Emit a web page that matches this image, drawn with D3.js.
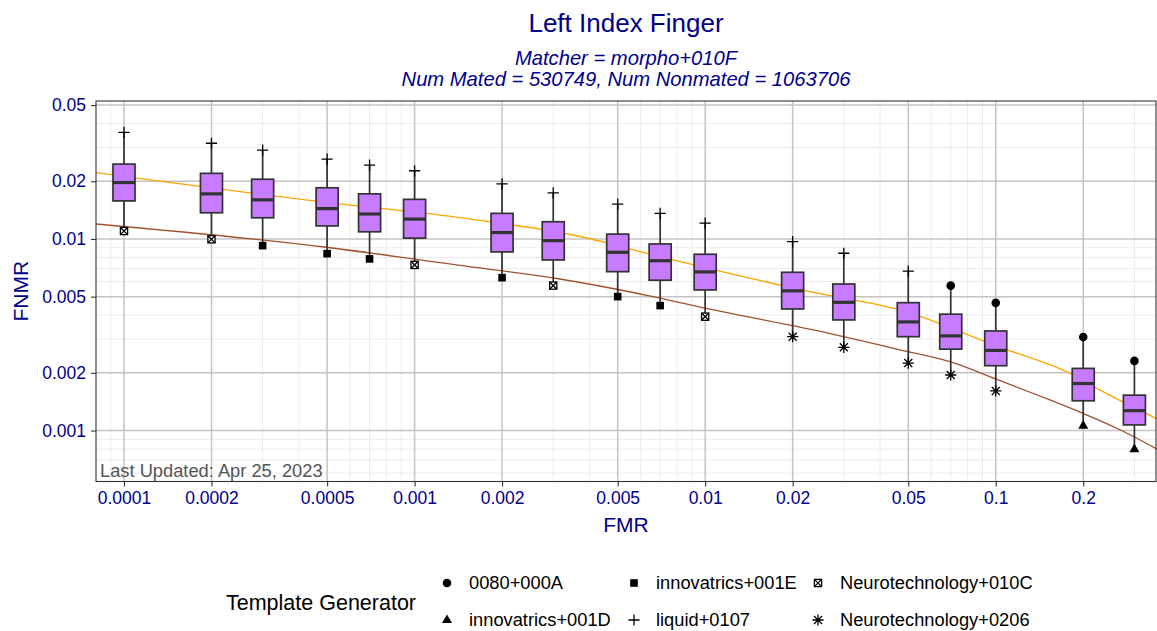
<!DOCTYPE html>
<html>
<head>
<meta charset="utf-8">
<script src="https://cdn.jsdelivr.net/npm/d3@7/dist/d3.min.js"></script>
<style>
  body { margin: 0; background: #fff; }
  svg { display: block; font-family: "Liberation Sans", Arial, sans-serif; }
</style>
</head>
<body>
<div id="chart"></div>
<script>
// FMR thresholds (one box per threshold)
const fmrLevels = [0.0001, 0.0002, 0.0003, 0.0005, 0.0007, 0.001, 0.002, 0.003, 0.005,
  0.007, 0.01, 0.02, 0.03, 0.05, 0.07, 0.1, 0.2, 0.3];

// box stats of FNMR across template generators
const whiskerHigh = [0.0360, 0.0316, 0.0291, 0.0261, 0.0243, 0.0227, 0.0194, 0.0174, 0.0152,
  0.0136, 0.0121, 0.00968, 0.00842, 0.00679, 0.00571, 0.00464, 0.00308, 0.00231];
const q3 = [0.0246, 0.0220, 0.0205, 0.0185, 0.0172, 0.0161, 0.0136, 0.0123, 0.0106,
  0.00942, 0.00832, 0.0067, 0.00582, 0.00465, 0.00405, 0.00331, 0.00211, 0.00153];
const median = [0.0197, 0.0172, 0.0160, 0.0144, 0.0135, 0.0127, 0.0108, 0.0098, 0.00852,
  0.0077, 0.00673, 0.00536, 0.00467, 0.00369, 0.00312, 0.00262, 0.00176, 0.00127];
const q1 = [0.0158, 0.0137, 0.0129, 0.0117, 0.0109, 0.0101, 0.00856, 0.00777, 0.00675,
  0.00609, 0.00542, 0.00431, 0.00378, 0.00309, 0.00266, 0.00218, 0.00143, 0.00107];
const whiskerLow = [0.0110, 0.00996, 0.00923, 0.00838, 0.00787, 0.00732, 0.00628, 0.00571, 0.0050,
  0.00449, 0.00393, 0.00309, 0.00272, 0.00225, 0.00195, 0.00161, 0.00106, 0.0008];

// which generator is worst (top point) / best (bottom point) at each threshold
const worstGenerator = ['liquid+0107', 'liquid+0107', 'liquid+0107', 'liquid+0107', 'liquid+0107',
  'liquid+0107', 'liquid+0107', 'liquid+0107', 'liquid+0107', 'liquid+0107', 'liquid+0107',
  'liquid+0107', 'liquid+0107', 'liquid+0107', '0080+000A', '0080+000A', '0080+000A', '0080+000A'];
const bestGenerator = ['Neurotechnology+010C', 'Neurotechnology+010C', 'innovatrics+001E',
  'innovatrics+001E', 'innovatrics+001E', 'Neurotechnology+010C', 'innovatrics+001E',
  'Neurotechnology+010C', 'innovatrics+001E', 'innovatrics+001E', 'Neurotechnology+010C',
  'Neurotechnology+0206', 'Neurotechnology+0206', 'Neurotechnology+0206', 'Neurotechnology+0206',
  'Neurotechnology+0206', 'innovatrics+001D', 'innovatrics+001D'];

// reference DET curves
const orangeFmr = [0.0000801, 0.000496, 0.00139, 0.00371, 0.00699, 0.0229, 0.0468, 0.1034, 0.180, 0.228, 0.359];
const orangeFnmr = [0.0222, 0.01553, 0.0130, 0.0103, 0.00809, 0.00531, 0.00426, 0.00272, 0.00199, 0.00163, 0.00115];
const brownFmr = [0.0000801, 0.000496, 0.00139, 0.00316, 0.00699, 0.00998, 0.0229, 0.0468, 0.0696, 0.1034, 0.1536, 0.1995, 0.2676, 0.359];
const brownFnmr = [0.01197, 0.00905, 0.00732, 0.00618, 0.00491, 0.00435, 0.00338, 0.00264, 0.00229, 0.00182, 0.001445, 0.00123, 0.00101, 0.00080];

const generators = ['0080+000A', 'innovatrics+001D', 'innovatrics+001E', 'liquid+0107',
  'Neurotechnology+010C', 'Neurotechnology+0206'];
const generatorShape = ['circle', 'triangle', 'square', 'plus', 'squareCross', 'asterisk'];

const xTicks = [0.0001, 0.0002, 0.0005, 0.001, 0.002, 0.005, 0.01, 0.02, 0.05, 0.1, 0.2];
const yTicks = [0.001, 0.002, 0.005, 0.01, 0.02, 0.05];
const minorMult = [3, 4, 6, 7, 8, 9];

const W = 1157, H = 631;
const panel = { left: 96, right: 1156, top: 101, bottom: 481.5 };
const navy = '#00008B';

const svg = d3.select('#chart').append('svg').attr('width', W).attr('height', H);

const x = d3.scaleLog().domain([8.01e-5, 0.356]).range([panel.left, panel.right]);
const y = d3.scaleLog().domain([5.42e-4, 0.0525]).range([panel.bottom, panel.top]);

function minorTicks(scale) {
  const [a, b] = scale.domain();
  const out = [];
  for (let e = Math.floor(Math.log10(a)); e <= Math.ceil(Math.log10(b)); e++) {
    minorMult.forEach(m => {
      const v = m * Math.pow(10, e);
      if (v >= a && v <= b) out.push(v);
    });
  }
  return out;
}

// grid
const grid = svg.append('g');
grid.selectAll('.xminor').data(minorTicks(x)).enter().append('line')
  .attr('x1', d => x(d)).attr('x2', d => x(d))
  .attr('y1', panel.top).attr('y2', panel.bottom)
  .attr('stroke', '#EBEBEB').attr('stroke-width', 1);
grid.selectAll('.yminor').data(minorTicks(y)).enter().append('line')
  .attr('y1', d => y(d)).attr('y2', d => y(d))
  .attr('x1', panel.left).attr('x2', panel.right)
  .attr('stroke', '#EBEBEB').attr('stroke-width', 1);
grid.selectAll('.xmajor').data(xTicks).enter().append('line')
  .attr('x1', d => x(d)).attr('x2', d => x(d))
  .attr('y1', panel.top).attr('y2', panel.bottom)
  .attr('stroke', '#C4C4C4').attr('stroke-width', 1.5);
grid.selectAll('.ymajor').data(yTicks).enter().append('line')
  .attr('y1', d => y(d)).attr('y2', d => y(d))
  .attr('x1', panel.left).attr('x2', panel.right)
  .attr('stroke', '#C4C4C4').attr('stroke-width', 1.5);

// DET curves
const line = d3.line().x(d => x(d[0])).y(d => y(d[1])).curve(d3.curveMonotoneX);
svg.append('path').datum(d3.zip(orangeFmr, orangeFnmr))
  .attr('d', line).attr('fill', 'none')
  .attr('stroke', '#FFA500').attr('stroke-width', 1.3);
svg.append('path').datum(d3.zip(brownFmr, brownFnmr))
  .attr('d', line).attr('fill', 'none')
  .attr('stroke', '#A0522D').attr('stroke-width', 1.3);

// boxes
const halfW = 0.0379; // box half-width in decades
const boxes = fmrLevels.map((f, i) => ({
  f, lo: whiskerLow[i], q1: q1[i], med: median[i], q3: q3[i], hi: whiskerHigh[i],
  worst: worstGenerator[i], best: bestGenerator[i]
}));
const bx = svg.append('g');
bx.selectAll('.whisker').data(boxes).enter().append('line')
  .attr('x1', d => x(d.f)).attr('x2', d => x(d.f))
  .attr('y1', d => y(d.lo)).attr('y2', d => y(d.hi))
  .attr('stroke', '#333333').attr('stroke-width', 1.7);
bx.selectAll('.box').data(boxes).enter().append('rect')
  .attr('x', d => x(d.f * Math.pow(10, -halfW)))
  .attr('width', d => x(d.f * Math.pow(10, halfW)) - x(d.f * Math.pow(10, -halfW)))
  .attr('y', d => y(d.q3))
  .attr('height', d => y(d.q1) - y(d.q3))
  .attr('fill', '#C77CFF').attr('stroke', '#333333').attr('stroke-width', 1.7);
bx.selectAll('.median').data(boxes).enter().append('line')
  .attr('x1', d => x(d.f * Math.pow(10, -halfW))).attr('x2', d => x(d.f * Math.pow(10, halfW)))
  .attr('y1', d => y(d.med)).attr('y2', d => y(d.med))
  .attr('stroke', '#333333').attr('stroke-width', 3.2);

// point markers
function drawMarker(g, shape) {
  const sw = 1.3;
  if (shape === 'circle') {
    g.append('circle').attr('r', 4.3).attr('fill', '#000');
  } else if (shape === 'triangle') {
    g.append('path').attr('d', 'M0,-5.6L5,3.1L-5,3.1Z').attr('fill', '#000');
  } else if (shape === 'square') {
    g.append('rect').attr('x', -3.8).attr('y', -3.8).attr('width', 7.6).attr('height', 7.6).attr('fill', '#000');
  } else if (shape === 'squareCross') {
    g.append('rect').attr('x', -3.6).attr('y', -3.6).attr('width', 7.2).attr('height', 7.2)
      .attr('fill', '#fff').attr('stroke', '#000').attr('stroke-width', sw);
    g.append('path').attr('d', 'M-3.6,-3.6L3.6,3.6M-3.6,3.6L3.6,-3.6')
      .attr('stroke', '#000').attr('stroke-width', sw);
  } else if (shape === 'plus') {
    g.append('path').attr('d', 'M-5.6,0H5.6M0,-5.6V5.6')
      .attr('stroke', '#000').attr('stroke-width', sw);
  } else if (shape === 'asterisk') {
    g.append('path').attr('d', 'M-5.6,0H5.6M0,-5.6V5.6M-4,-4L4,4M-4,4L4,-4')
      .attr('stroke', '#000').attr('stroke-width', sw);
  }
}
const shapeOf = name => generatorShape[generators.indexOf(name)];

const pts = svg.append('g');
boxes.forEach(d => {
  drawMarker(pts.append('g').attr('transform', `translate(${x(d.f)},${y(d.hi)})`), shapeOf(d.worst));
  drawMarker(pts.append('g').attr('transform', `translate(${x(d.f)},${y(d.lo)})`), shapeOf(d.best));
});

// panel border
svg.append('rect')
  .attr('x', panel.left).attr('y', panel.top)
  .attr('width', panel.right - panel.left).attr('height', panel.bottom - panel.top)
  .attr('fill', 'none').attr('stroke', '#333333').attr('stroke-width', 1.1);

// axes
const xAxis = svg.append('g').attr('transform', `translate(0,${panel.bottom})`)
  .call(d3.axisBottom(x).tickValues(xTicks).tickFormat(d3.format('~g')).tickSize(5).tickPadding(5));
const yAxis = svg.append('g').attr('transform', `translate(${panel.left},0)`)
  .call(d3.axisLeft(y).tickValues(yTicks).tickFormat(d3.format('~g')).tickSize(5).tickPadding(5));
[xAxis, yAxis].forEach(a => {
  a.select('.domain').remove();
  a.selectAll('.tick line').attr('stroke', '#333333').attr('stroke-width', 1.1);
  a.selectAll('.tick text').attr('fill', navy).style('font-size', '17.5px')
    .style('font-family', '"Liberation Sans", Arial, sans-serif');
});

// caption inside panel
svg.append('text').attr('x', 100).attr('y', 477)
  .attr('fill', '#555555').style('font-size', '18.3px')
  .text('Last Updated: Apr 25, 2023');

// titles
const cx = (panel.left + panel.right) / 2;
svg.append('text').attr('x', cx).attr('y', 32).attr('text-anchor', 'middle')
  .attr('fill', navy).style('font-size', '26px').text('Left Index Finger');
svg.append('text').attr('x', cx).attr('y', 65).attr('text-anchor', 'middle')
  .attr('fill', navy).style('font-size', '20.2px').style('font-style', 'italic')
  .text('Matcher = morpho+010F');
svg.append('text').attr('x', cx).attr('y', 86).attr('text-anchor', 'middle')
  .attr('fill', navy).style('font-size', '20.2px').style('font-style', 'italic')
  .text('Num Mated = 530749, Num Nonmated = 1063706');

svg.append('text').attr('x', cx).attr('y', 532).attr('text-anchor', 'middle')
  .attr('fill', navy).style('font-size', '21px').text('FMR');
svg.append('text').attr('transform', `translate(28,${(panel.top + panel.bottom) / 2}) rotate(-90)`)
  .attr('text-anchor', 'middle').attr('fill', navy).style('font-size', '21px').text('FNMR');

// legend
const legend = svg.append('g');
legend.append('text').attr('x', 226).attr('y', 610)
  .attr('fill', '#000').style('font-size', '21.5px').text('Template Generator');
const colX = [447, 634, 818];
const rowY = [583, 620];
generators.forEach((gname, i) => {
  const c = Math.floor(i / 2), r = i % 2;
  const item = legend.append('g').attr('transform', `translate(${colX[c]},${rowY[r]})`);
  drawMarker(item, generatorShape[i]);
  item.append('text').attr('x', 22).attr('y', 6.3).attr('fill', '#000')
    .style('font-size', '18.3px').text(gname);
});
</script>
</body>
</html>
